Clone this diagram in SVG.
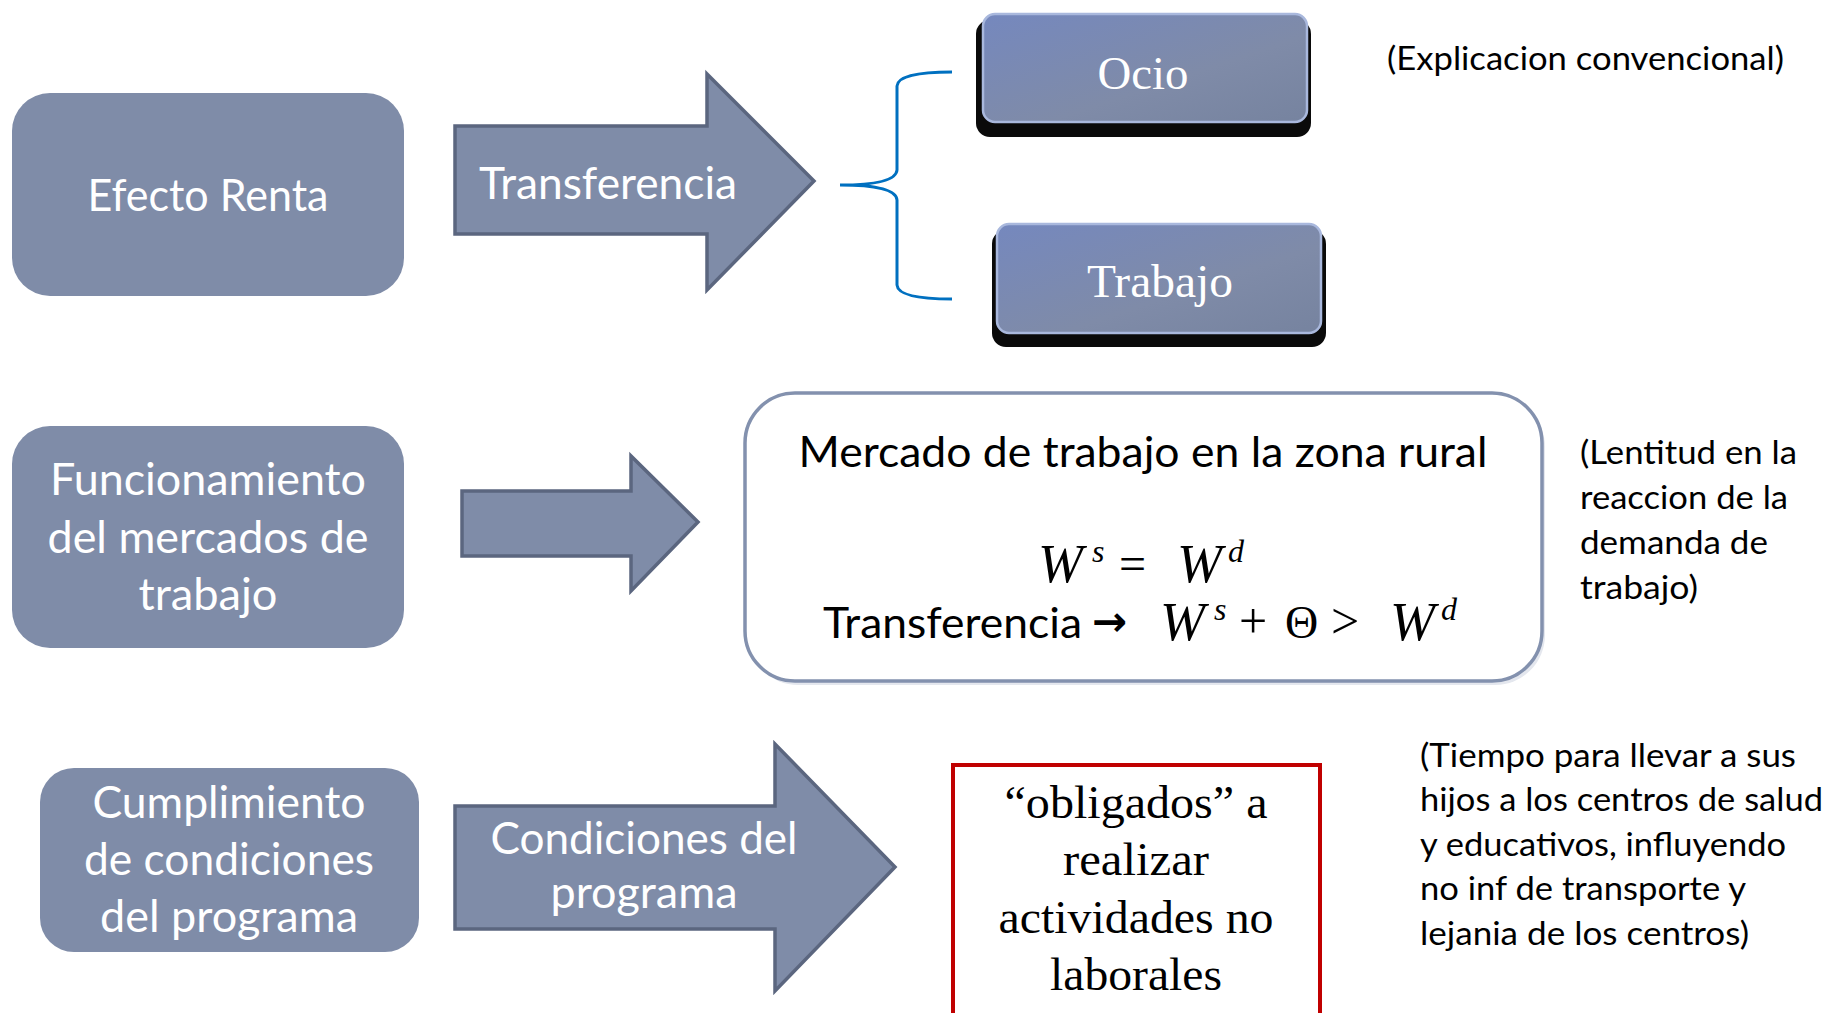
<svg xmlns="http://www.w3.org/2000/svg" width="1832" height="1013" viewBox="0 0 1832 1013">
<style>
.box{fill:#7F8CA8;}
.arr{fill:#7F8CA8;stroke:#5B667F;stroke-width:3.5;stroke-linejoin:miter;}
.wt{font-family:Lato,"Noto Sans",sans-serif;fill:#fff;text-anchor:middle;font-size:44px;}
.bt{font-family:Lato,"Noto Sans",sans-serif;fill:#000;font-size:33px;}
.sf{font-family:"Liberation Serif",serif;font-size:46px;text-anchor:middle;}
.mi{font-family:"Liberation Serif",serif;font-style:italic;fill:#000;}
.mr{font-family:"Liberation Serif",serif;fill:#000;}
</style>
<defs>
<linearGradient id="bg" x1="0" y1="0" x2="1" y2="1">
<stop offset="0" stop-color="#7588BE"/>
<stop offset="0.6" stop-color="#7F8BA8"/>
<stop offset="1" stop-color="#76839F"/>
</linearGradient>
</defs>
<rect width="1832" height="1013" fill="#fff"/>
<g id="connectors">
<polygon class="arr" points="455,126 707,126 707,74 814,181 707,290 707,234 455,234"/>
<polygon class="arr" points="462,491 631,491 631,456 698,522 631,591 631,556 462,556"/>
<polygon class="arr" points="455,806 775,806 775,744 895,867 775,991 775,929 455,929"/>
<path d="M952,72 Q898,72 897,86 L897,170 Q896,185 840,185 Q896,185 897,200 L897,285 Q898,299 952,299" fill="none" stroke="#0070C0" stroke-width="3"/>
</g>
<g id="efecto-renta">
<rect class="box" x="12" y="93" width="392" height="203" rx="38"/>
<text class="wt" x="208" y="211" textLength="241" lengthAdjust="spacingAndGlyphs">Efecto Renta</text>
</g>
<g id="arrow-label-transferencia">
<text class="wt" x="608" y="199" textLength="258" lengthAdjust="spacingAndGlyphs">Transferencia</text>
</g>
<g id="ocio">
<rect x="976" y="20" width="335" height="117" rx="14" fill="#0a0a0a"/>
<rect x="983" y="14" width="324" height="108" rx="12" fill="url(#bg)" stroke="#A9B8DD" stroke-width="2.5"/>
<text class="sf" x="1143" y="89" fill="#fff" textLength="91" lengthAdjust="spacingAndGlyphs">Ocio</text>
</g>
<g id="trabajo">
<rect x="992" y="230" width="334" height="117" rx="14" fill="#0a0a0a"/>
<rect x="997" y="224" width="324" height="109" rx="12" fill="url(#bg)" stroke="#A9B8DD" stroke-width="2.5"/>
<text class="sf" x="1160" y="297" fill="#fff" textLength="146" lengthAdjust="spacingAndGlyphs">Trabajo</text>
</g>
<g id="explicacion">
<text class="bt" x="1387" y="70" textLength="397" lengthAdjust="spacingAndGlyphs">(Explicacion convencional)</text>
</g>
<g id="funcionamiento">
<rect class="box" x="12" y="426" width="392" height="222" rx="38"/>
<text class="wt" x="208" y="495" textLength="316" lengthAdjust="spacingAndGlyphs">Funcionamiento</text>
<text class="wt" x="208" y="553" textLength="321" lengthAdjust="spacingAndGlyphs">del mercados de</text>
<text class="wt" x="208" y="610" textLength="139" lengthAdjust="spacingAndGlyphs">trabajo</text>
</g>
<g id="mercado">
<rect x="748" y="397" width="797" height="288" rx="50" fill="#E4E7EE"/>
<rect x="745" y="393" width="797" height="288" rx="50" fill="#fff" stroke="#8391AE" stroke-width="3.5"/>
<text x="1143" y="467" font-family="Lato,'Noto Sans',sans-serif" font-size="43" text-anchor="middle" textLength="689" lengthAdjust="spacingAndGlyphs">Mercado de trabajo en la zona rural</text>
<text class="mi" x="1038" y="582" font-size="54">W</text>
<text class="mi" x="1092" y="562" font-size="32">s</text>
<text class="mr" x="1119" y="580" font-size="48">=</text>
<text class="mi" x="1177" y="582" font-size="54">W</text>
<text class="mi" x="1228" y="562" font-size="32">d</text>
<text x="823" y="638" font-family="Lato,'Noto Sans',sans-serif" font-size="43" textLength="259" lengthAdjust="spacingAndGlyphs">Transferencia</text>
<text x="1092" y="636" font-family="'DejaVu Sans',sans-serif" font-size="42" font-weight="bold">→</text>
<text class="mi" x="1160" y="640" font-size="54">W</text>
<text class="mi" x="1214" y="620" font-size="32">s</text>
<text class="mr" x="1239" y="638" font-size="50">+</text>
<text class="mr" x="1285" y="638" font-size="46">Θ</text>
<text class="mr" x="1331" y="638" font-size="50">&gt;</text>
<text class="mi" x="1390" y="640" font-size="54">W</text>
<text class="mi" x="1441" y="620" font-size="32">d</text>
</g>
<g id="lentitud">
<text class="bt" x="1580" y="464" textLength="217" lengthAdjust="spacingAndGlyphs">(Lentitud en la</text>
<text class="bt" x="1580" y="509" textLength="208" lengthAdjust="spacingAndGlyphs">reaccion de la</text>
<text class="bt" x="1580" y="554" textLength="188" lengthAdjust="spacingAndGlyphs">demanda de</text>
<text class="bt" x="1580" y="599" textLength="118" lengthAdjust="spacingAndGlyphs">trabajo)</text>
</g>
<g id="cumplimiento">
<rect class="box" x="40" y="768" width="379" height="184" rx="34"/>
<text class="wt" x="229" y="818" textLength="273" lengthAdjust="spacingAndGlyphs">Cumplimiento</text>
<text class="wt" x="229" y="875" textLength="290" lengthAdjust="spacingAndGlyphs">de condiciones</text>
<text class="wt" x="229" y="932" textLength="258" lengthAdjust="spacingAndGlyphs">del programa</text>
</g>
<g id="arrow-label-condiciones">
<text class="wt" x="644" y="854" textLength="307" lengthAdjust="spacingAndGlyphs">Condiciones del</text>
<text class="wt" x="644" y="908" textLength="187" lengthAdjust="spacingAndGlyphs">programa</text>
</g>
<g id="obligados">
<rect x="953" y="765" width="367" height="270" fill="#fff" stroke="#C00000" stroke-width="4"/>
<text class="sf" x="1136" y="818" fill="#000" textLength="263" lengthAdjust="spacingAndGlyphs">“obligados” a</text>
<text class="sf" x="1136" y="875" fill="#000" textLength="146" lengthAdjust="spacingAndGlyphs">realizar</text>
<text class="sf" x="1136" y="933" fill="#000" textLength="275" lengthAdjust="spacingAndGlyphs">actividades no</text>
<text class="sf" x="1136" y="990" fill="#000" textLength="172" lengthAdjust="spacingAndGlyphs">laborales</text>
</g>
<g id="tiempo">
<text class="bt" x="1420" y="767" textLength="376" lengthAdjust="spacingAndGlyphs">(Tiempo para llevar a sus</text>
<text class="bt" x="1420" y="811" textLength="403" lengthAdjust="spacingAndGlyphs">hijos a los centros de salud</text>
<text class="bt" x="1420" y="856" textLength="366" lengthAdjust="spacingAndGlyphs">y educativos, influyendo</text>
<text class="bt" x="1420" y="900" textLength="326" lengthAdjust="spacingAndGlyphs">no inf de transporte y</text>
<text class="bt" x="1420" y="945" textLength="329" lengthAdjust="spacingAndGlyphs">lejania de los centros)</text>
</g>
</svg>
